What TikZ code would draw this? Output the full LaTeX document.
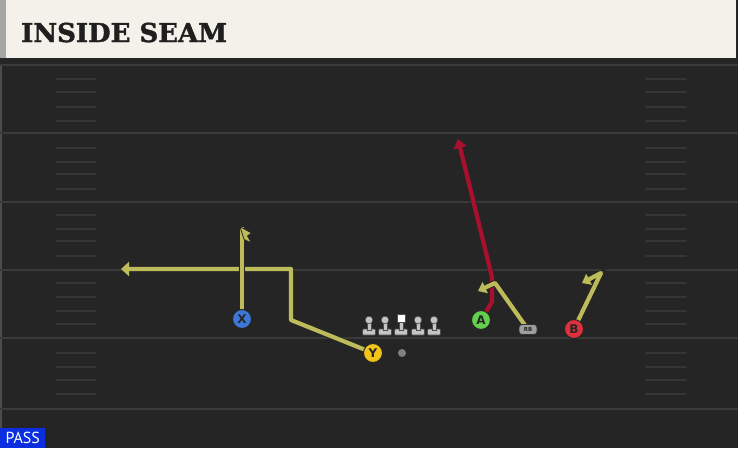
\documentclass[tikz,border=0pt]{standalone}
\usepackage{fontspec}
\setmainfont{DejaVu Sans}
\newfontfamily\titlefont[BoldFeatures={FakeBold=1.6}]{DejaVu Serif}
\newfontfamily\tagfont{PT Sans}
\usetikzlibrary{arrows.meta,positioning}

\definecolor{fieldbg}{HTML}{252525}
\definecolor{yardline}{HTML}{3A3A3A}
\definecolor{hashline}{HTML}{363636}
\definecolor{headcream}{HTML}{F4F1EA}
\definecolor{routeyellow}{HTML}{BDBB5A}
\definecolor{routered}{HTML}{A8102E}
\definecolor{xblue}{HTML}{3B78D8}
\definecolor{yyellow}{HTML}{F2C31B}
\definecolor{agreen}{HTML}{62D04A}
\definecolor{bred}{HTML}{E0303C}
\definecolor{linegray}{HTML}{C4C4C4}
\definecolor{passblue}{HTML}{0A2EE0}

\pgfdeclarelayer{field}
\pgfdeclarelayer{routes}
\pgfsetlayers{field,routes,main}

\tikzset{
  player/.style={circle,draw=black!85,line width=1pt,minimum size=19pt,inner sep=0pt,
    font=\bfseries\fontsize{12}{12}\selectfont,text=black!85},
  route/.style={line width=4.2pt,line join=round,
    preaction={draw=black!85,line width=6pt}},
  yardmark/.style={draw=yardline,line width=2pt},
  hashmark/.style={draw=hashline,line width=1.8pt,line cap=round},
  lineman/.style={fill=linegray,draw=black!70,line width=0.6pt},
}

\begin{document}
\begin{tikzpicture}[x=1pt,y=-1pt]
\useasboundingbox (0,0) rectangle (738,448);
% field
\begin{pgfonlayer}{field}
\fill[fieldbg] (0,0) rectangle (738,448);
\fill[black!85] (0,56) rectangle (738,64);
\fill[black!70] (0,64) rectangle (2,448);
\foreach \y in {65,133,202,270,338,409}
  \draw[yardmark] (0,\y) -- (738,\y);
\foreach \y in {79,92,107,121,148,162,174,189,215,229,241,256,283,297,311,324,353,367,380,394} {
  \draw[hashmark] (56,\y) -- (96,\y);
  \draw[hashmark] (646,\y) -- (686,\y);
}
% header
\fill[headcream] (0,0) rectangle (736,58);
\fill[black!35] (0,0) rectangle (6,58);
\end{pgfonlayer}
\node[anchor=base west,inner sep=0pt,text=black!88,
  font=\titlefont\bfseries\fontsize{26}{26}\selectfont] (title) at (21,42) {INSIDE SEAM};

% line
\foreach \x/\n in {369/lt,385/lg,418/rg,434/rt} {
  \coordinate (\n) at (\x,320);
  \filldraw[lineman,rounded corners=1pt] (\x-6.5,335) rectangle (\x+6.5,329);
  \filldraw[lineman] (\x-2.2,330) rectangle (\x+2.2,322);
  \filldraw[lineman] (\x,320) circle (3.8pt);
}
\coordinate (c) at (401,320);
\filldraw[lineman,rounded corners=1pt] (394.5,335) rectangle (407.5,329);
\filldraw[lineman] (398.8,330) rectangle (403.2,321);
\filldraw[lineman,fill=white] (397,314) rectangle (405,322);
\node[circle,fill=gray,minimum size=8pt,inner sep=0pt] (ball) at (402,353) {};

% players
\node[player,fill=xblue] (X) at (242,319) {X};
\node[player,fill=yyellow] (Y) at (373,353) {Y};
\node[player,fill=agreen] (A) at (481,320) {A};
\node[player,fill=bred] (B) at (574,329) {B};
\node[fill=black!38,draw=black!80,line width=0.8pt,rounded corners=3pt,
  minimum width=18pt,minimum height=10pt,inner sep=0pt,text=black!85,
  font=\bfseries\fontsize{5.5}{5.5}\selectfont] (RB) at (528,329.5) {RB};

% routes
\coordinate (xt) at (242,227);
\coordinate (y1) at (291,320);
\coordinate (y2) at (291,269);
\coordinate (y3) at (121,269);
\coordinate (a1) at (492,302);
\coordinate (a2) at (492,277);
\coordinate (a3) at (458,139);
\coordinate (r1) at (495,283);
\coordinate (r2) at (478,291);
\coordinate (b1) at (601,273);
\coordinate (b2) at (582,283);

\begin{pgfonlayer}{routes}
\draw[route,draw=routeyellow,-{Triangle[length=8pt,width=14pt]}]
  (Y.center) -- (y1) -- (y2) -- (y3);
\draw[route,draw=routeyellow] (X.center) -- (xt);
\filldraw[fill=routeyellow,draw=black!85,line width=0.8pt]
  (239.9,226.5) -- (251.5,233) -- (247.5,236) -- (251.5,243) -- (244.1,239.5) -- cycle;
\draw[route,draw=routered,-{Triangle[length=9pt,width=13pt]}]
  (A.center) -- (a1) -- (a2) -- (a3);
\draw[route,draw=routeyellow,-{Triangle[length=8pt,width=12pt]}]
  (RB.center) -- (r1) -- (r2);
\draw[route,draw=routeyellow,-{Triangle[length=8pt,width=12pt]}]
  (B.center) -- (b1) -- (b2);
\end{pgfonlayer}

% play type
\node[fill=passblue,anchor=south west,minimum width=45pt,minimum height=20pt,
  inner sep=0pt,text=white,font=\tagfont\fontsize{16}{16}\selectfont] (pass) at (0,448) {PASS};
\end{tikzpicture}
\end{document}
